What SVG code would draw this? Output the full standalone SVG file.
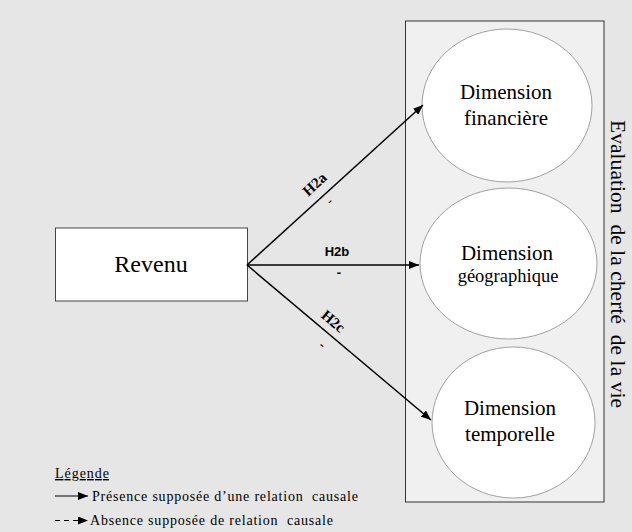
<svg xmlns="http://www.w3.org/2000/svg" width="632" height="532" viewBox="0 0 632 532">
<defs>
<marker id="ah" viewBox="0 0 10 8" refX="10" refY="4" markerWidth="10" markerHeight="8" markerUnits="userSpaceOnUse" orient="auto">
<path d="M0,0 L10,4 L0,8 Z" fill="#000"/>
</marker>
<style>
.t{font-family:"Liberation Serif","Times New Roman",serif;fill:#000}
.dim{font-size:21px;text-anchor:middle}
.ell{fill:#fff;stroke:#a0a0a0;stroke-width:1}
.con{stroke:#000;stroke-width:1.5;fill:none}
.leg{font-size:14px}
</style>
</defs>
<rect width="632" height="532" fill="#e6e6e6"/>
<g id="evaluation">
<rect x="405.5" y="21" width="198.5" height="481" fill="#f0f0f0" stroke="#333" stroke-width="1"/>
<text class="t" font-size="21.5" transform="translate(611,264) rotate(90)" text-anchor="middle" textLength="288" xml:space="preserve">Evaluation  de la cherté  de la vie</text>
</g>
<g id="revenu">
<rect x="55.5" y="228" width="192" height="73" fill="#fff" stroke="#444" stroke-width="1"/>
<text class="t" x="151" y="272" font-size="24" text-anchor="middle">Revenu</text>
</g>
<g id="financiere">
<ellipse class="ell" cx="507" cy="105.5" rx="85" ry="76.5"/>
<text class="t dim" x="506" y="99">Dimension</text>
<text class="t dim" x="506" y="125">financière</text>
</g>
<g id="geographique">
<ellipse class="ell" cx="508.5" cy="263.5" rx="88.5" ry="75.5"/>
<text class="t dim" x="507" y="260">Dimension</text>
<text class="t" x="508" y="282" font-size="18.5" text-anchor="middle">géographique</text>
</g>
<g id="temporelle">
<ellipse class="ell" cx="513.5" cy="422.5" rx="81.5" ry="75.5"/>
<text class="t dim" x="510" y="415">Dimension</text>
<text class="t dim" x="510" y="441">temporelle</text>
</g>
<g id="connectors">
<line class="con" x1="247" y1="265" x2="423" y2="105" marker-end="url(#ah)"/>
<line class="con" x1="247" y1="265" x2="419" y2="265" marker-end="url(#ah)"/>
<line class="con" x1="247" y1="265" x2="431" y2="420" marker-end="url(#ah)"/>
<text class="t" font-size="15" font-weight="bold" text-anchor="middle" transform="translate(318,188) rotate(-42.3)">H2a</text>
<text class="t" font-size="13" font-weight="bold" text-anchor="middle" transform="translate(332,204) rotate(-42.3)">-</text>
<text font-family="Liberation Sans, Arial, sans-serif" font-size="13" font-weight="bold" x="337" y="256" text-anchor="middle">H2b</text>
<text font-family="Liberation Sans, Arial, sans-serif" font-size="13" font-weight="bold" x="339" y="277" text-anchor="middle">-</text>
<text class="t" font-size="15" font-weight="bold" text-anchor="middle" transform="translate(330,325) rotate(40.1)">H2c</text>
<text class="t" font-size="13" font-weight="bold" text-anchor="middle" transform="translate(320,348) rotate(40.1)">-</text>
</g>
<g id="legende">
<text class="t leg" x="55" y="478" textLength="54" text-decoration="underline">Légende</text>
<line x1="55" y1="496" x2="88" y2="496" stroke="#000" stroke-width="1" marker-end="url(#ah)"/>
<text class="t leg" x="92" y="501" textLength="266" xml:space="preserve">Présence supposée d’une relation  causale</text>
<line x1="55" y1="520.5" x2="88" y2="520.5" stroke="#000" stroke-width="1" stroke-dasharray="5,4" marker-end="url(#ah)"/>
<text class="t leg" x="90" y="525" textLength="243" xml:space="preserve">Absence supposée de relation  causale</text>
</g>
</svg>
